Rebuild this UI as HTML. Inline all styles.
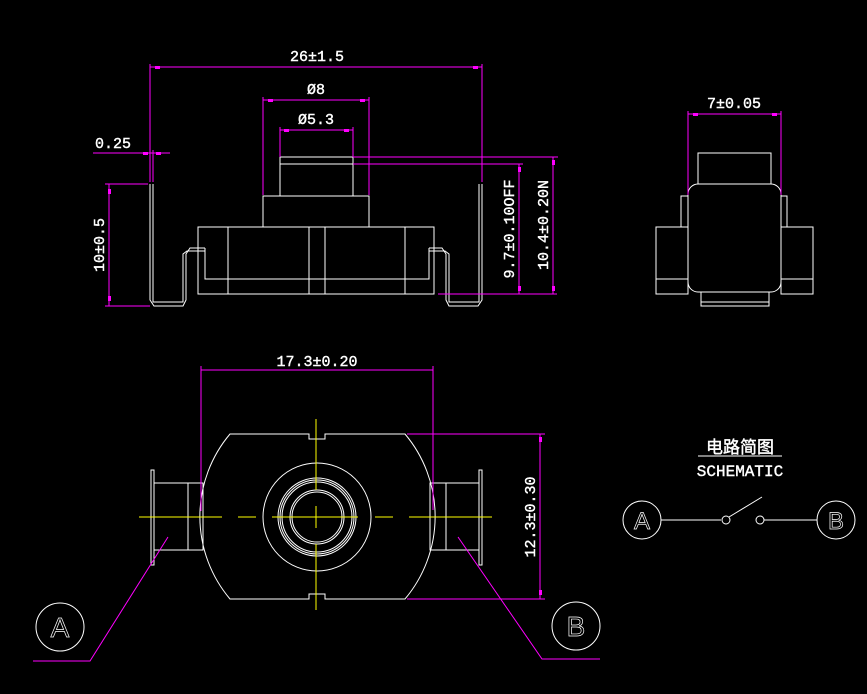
<!DOCTYPE html>
<html><head><meta charset="utf-8"><style>
html,body{margin:0;padding:0;background:#000;}
svg{display:block}
text{font-family:"Liberation Mono","Noto Sans CJK SC",monospace;fill:#fff;font-size:15px;stroke:#fff;stroke-width:0.4;}
</style></head><body>
<svg width="867" height="694" viewBox="0 0 867 694" xmlns="http://www.w3.org/2000/svg">
<g fill="none" stroke="#fff" stroke-width="1">
<!-- top front view -->
<rect x="280" y="157" width="73" height="39"/>
<line x1="280" y1="164" x2="353" y2="164"/>
<rect x="263" y="196" width="106" height="31"/>
<rect x="198" y="227" width="236" height="67"/>
<line x1="228" y1="227" x2="228" y2="294"/>
<line x1="309" y1="227" x2="309" y2="294"/>
<line x1="325" y1="227" x2="325" y2="294"/>
<line x1="405" y1="227" x2="405" y2="294"/>
<polyline points="205,248 205,279 429,279 429,248"/>
<polyline points="150,184 150,300 154,306 183,306 186,300 186,254 190,248 205,248"/>
<polyline points="153,184 153,302 183,302 183,254 187,251 205,251"/>
<polyline points="482,184 482,300 478,306 449,306 446,300 446,254 442,248 429,248"/>
<polyline points="479,184 479,302 449,302 449,254 445,251 429,251"/>
<!-- side view -->
<rect x="698" y="153" width="73" height="31"/>
<rect x="688" y="184" width="93" height="108" rx="10"/>
<rect x="681" y="196" width="7" height="31"/>
<rect x="781" y="196" width="6" height="31"/>
<rect x="656" y="227" width="32" height="67"/>
<line x1="656" y1="279" x2="688" y2="279"/>
<rect x="781" y="227" width="32" height="67"/>
<line x1="781" y1="279" x2="813" y2="279"/>
<rect x="701" y="292" width="68" height="14"/>
<line x1="701" y1="302" x2="769" y2="302"/>
<!-- bottom view -->
<path d="M230,434 L309,434 L309,439 L325,439 L325,434 L405,434 A128,128 0 0 1 405,599 L325,599 L325,594 L309,594 L309,599 L230,599 A128,128 0 0 1 230,434 Z"/>
<circle cx="317" cy="517" r="54"/>
<circle cx="317" cy="517" r="39"/>
<circle cx="317" cy="517" r="37"/>
<circle cx="317" cy="517" r="35"/>
<circle cx="317" cy="517" r="27"/>
<circle cx="317" cy="517" r="25"/>
<rect x="151" y="470" width="3" height="95"/>
<rect x="154" y="483" width="49" height="67"/>
<line x1="188" y1="483" x2="188" y2="550"/>
<rect x="479" y="470" width="3" height="95"/>
<rect x="430" y="483" width="49" height="67"/>
<line x1="446" y1="483" x2="446" y2="550"/>
<circle cx="60" cy="627" r="24"/>
<circle cx="576" cy="626" r="24"/>
<!-- schematic -->
<circle cx="642" cy="520" r="19"/>
<circle cx="836" cy="520" r="19"/>
<line x1="661" y1="520" x2="721" y2="520"/>
<circle cx="726" cy="520" r="4"/>
<line x1="729" y1="517" x2="762" y2="497"/>
<circle cx="760" cy="520" r="4"/>
<line x1="764" y1="520" x2="817" y2="520"/>
<line x1="698" y1="456" x2="782" y2="456"/>
</g>
<g stroke="#ff0" stroke-width="1">
<line x1="139" y1="517" x2="222" y2="517"/>
<line x1="238" y1="517" x2="256" y2="517"/>
<line x1="272" y1="517" x2="358" y2="517"/>
<line x1="375" y1="517" x2="393" y2="517"/>
<line x1="409" y1="517" x2="492" y2="517"/>
<line x1="316" y1="419" x2="316" y2="490"/>
<line x1="316" y1="506" x2="316" y2="528"/>
<line x1="316" y1="544" x2="316" y2="610"/>
</g>
<g stroke="#f0f" stroke-width="1" fill="none">
<line x1="150" y1="67" x2="482" y2="67"/>
<line x1="150" y1="64" x2="150" y2="182"/>
<line x1="482" y1="64" x2="482" y2="182"/>
<line x1="263" y1="100" x2="369" y2="100"/>
<line x1="263" y1="97" x2="263" y2="195"/>
<line x1="369" y1="97" x2="369" y2="195"/>
<line x1="280" y1="130" x2="353" y2="130"/>
<line x1="280" y1="127" x2="280" y2="157"/>
<line x1="353" y1="127" x2="353" y2="157"/>
<line x1="93" y1="153" x2="170" y2="153"/>
<line x1="153" y1="150" x2="153" y2="182"/>
<line x1="109" y1="184" x2="109" y2="306"/>
<line x1="105" y1="184" x2="148" y2="184"/>
<line x1="105" y1="306" x2="150" y2="306"/>
<line x1="519" y1="164" x2="519" y2="294"/>
<line x1="353" y1="164" x2="523" y2="164"/>
<line x1="438" y1="294" x2="557" y2="294"/>
<line x1="553" y1="157" x2="553" y2="294"/>
<line x1="353" y1="157" x2="558" y2="157"/>
<line x1="688" y1="114" x2="781" y2="114"/>
<line x1="688" y1="111" x2="688" y2="195"/>
<line x1="781" y1="111" x2="781" y2="195"/>
<line x1="201" y1="370" x2="433" y2="370"/>
<line x1="201" y1="366" x2="201" y2="511"/>
<line x1="433" y1="366" x2="433" y2="510"/>
<line x1="540" y1="434" x2="540" y2="599"/>
<line x1="407" y1="434" x2="545" y2="434"/>
<line x1="407" y1="599" x2="545" y2="599"/>
<polyline points="33,661 90,661 168,537"/>
<polyline points="600,659 542,659 458,537"/>
</g>
<g fill="#f0f">
<rect x="155" y="66" width="5" height="3"/><rect x="473" y="66" width="5" height="3"/>
<rect x="268" y="99" width="5" height="3"/><rect x="360" y="99" width="5" height="3"/>
<rect x="284" y="129" width="5" height="3"/><rect x="344" y="129" width="5" height="3"/>
<rect x="143" y="152" width="5" height="3"/><rect x="156" y="152" width="5" height="3"/>
<rect x="108" y="189" width="3" height="5"/><rect x="108" y="296" width="3" height="5"/>
<rect x="518" y="167" width="3" height="5"/><rect x="518" y="286" width="3" height="5"/>
<rect x="552" y="160" width="3" height="5"/><rect x="552" y="286" width="3" height="5"/>
<rect x="693" y="113" width="5" height="3"/><rect x="772" y="113" width="5" height="3"/>
<rect x="539" y="437" width="3" height="5"/><rect x="539" y="590" width="3" height="5"/>
</g>
<text x="317" y="61" text-anchor="middle">26±1.5</text>
<text x="316" y="94" text-anchor="middle">Ø8</text>
<text x="316" y="124" text-anchor="middle">Ø5.3</text>
<text x="113" y="148" text-anchor="middle">0.25</text>
<text transform="translate(104,245) rotate(-90)" text-anchor="middle">10±0.5</text>
<text transform="translate(514,229) rotate(-90)" text-anchor="middle">9.7±0.10OFF</text>
<text transform="translate(548,225) rotate(-90)" text-anchor="middle">10.4±0.20N</text>
<text x="734" y="108" text-anchor="middle">7±0.05</text>
<text x="317" y="366" text-anchor="middle">17.3±0.20</text>
<text transform="translate(535,517) rotate(-90)" text-anchor="middle">12.3±0.30</text>
<text x="740" y="453" text-anchor="middle" style="font-size:17px">电路简图</text>
<text x="740" y="476" text-anchor="middle" style="font-size:16px">SCHEMATIC</text>
<text x="60" y="637" text-anchor="middle" style="font-family:'Liberation Sans',sans-serif;font-size:28px;fill:none;stroke:#fff;stroke-width:0.7">A</text>
<text x="576" y="636" text-anchor="middle" style="font-family:'Liberation Sans',sans-serif;font-size:28px;fill:none;stroke:#fff;stroke-width:0.7">B</text>
<text x="642" y="529" text-anchor="middle" style="font-family:'Liberation Sans',sans-serif;font-size:24px;fill:none;stroke:#fff;stroke-width:0.7">A</text>
<text x="836" y="529" text-anchor="middle" style="font-family:'Liberation Sans',sans-serif;font-size:24px;fill:none;stroke:#fff;stroke-width:0.7">B</text>
</svg>
</body></html>
